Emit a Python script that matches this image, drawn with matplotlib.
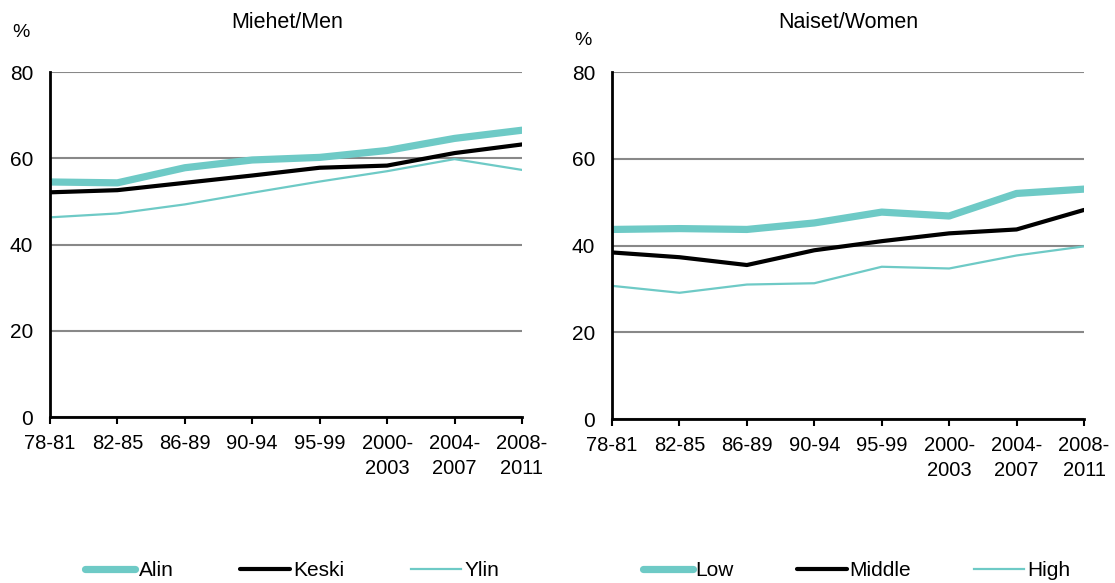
import matplotlib
matplotlib.use("Agg")
import matplotlib.pyplot as plt

plt.rcParams['font.family'] = ['Liberation Sans', 'DejaVu Sans']

# Periods on the x axis
periods = ['78-81', '82-85', '86-89', '90-94', '95-99', '2000-\n2003', '2004-\n2007', '2008-\n2011']

# Men (Miehet)
men_low = [54.5, 54.3, 57.8, 59.6, 60.2, 61.8, 64.6, 66.5]
men_mid = [52.1, 52.6, 54.3, 56.0, 57.8, 58.3, 61.2, 63.2]
men_high = [46.3, 47.2, 49.3, 52.0, 54.6, 57.0, 59.8, 57.3]

# Women (Naiset)
women_low = [43.7, 43.9, 43.7, 45.2, 47.7, 46.8, 52.0, 53.0]
women_mid = [38.4, 37.3, 35.5, 38.9, 41.0, 42.8, 43.7, 48.2]
women_high = [30.7, 29.1, 31.0, 31.3, 35.1, 34.7, 37.7, 39.8]

teal = '#6ECAC6'

fig = plt.figure(figsize=(11.15, 5.83), dpi=100)
ax1 = fig.add_axes([0.0448, 0.2847, 0.4233, 0.5918])
ax2 = fig.add_axes([0.5489, 0.2813, 0.4233, 0.5952])


def draw(ax, low, mid, high, labels, title, title_x, pct_x, pct_y):
    x = range(len(periods))
    l1, = ax.plot(x, low, color=teal, lw=5.2, solid_capstyle='round', solid_joinstyle='round', label=labels[0], zorder=3)
    l2, = ax.plot(x, mid, color='black', lw=3.0, solid_capstyle='round', solid_joinstyle='round', label=labels[1], zorder=4)
    l3, = ax.plot(x, high, color=teal, lw=1.6, label=labels[2], zorder=5)
    ax.set_xlim(0, len(periods) - 1)
    ax.set_ylim(0, 80)
    ax.set_yticks([0, 20, 40, 60, 80])
    ax.set_xticks(list(x))
    ax.set_xticklabels(periods, multialignment='center', linespacing=1.45)
    ax.tick_params(axis='x', direction='out', length=5, width=1.5, labelsize=14.5, pad=7)
    ax.tick_params(axis='y', length=0, labelsize=15, pad=12)
    ax.yaxis.grid(True, color='#888888', lw=1.5)
    ax.set_axisbelow(True)
    for s in ['top', 'right']:
        ax.spines[s].set_visible(False)
    ax.spines['left'].set_linewidth(2)
    ax.spines['bottom'].set_linewidth(2)
    ax.spines['left'].set_zorder(6)
    ax.spines['bottom'].set_zorder(6)
    fig.text(title_x, 0.962, title, fontsize=15.5, ha='center', va='center')
    fig.text(pct_x, pct_y, '%', fontsize=14, ha='center', va='center')
    return [l1, l2, l3]


h1 = draw(ax1, men_low, men_mid, men_high, ['Alin', 'Keski', 'Ylin'], 'Miehet/Men', 0.258, 0.019, 0.945)
h2 = draw(ax2, women_low, women_mid, women_high, ['Low', 'Middle', 'High'], 'Naiset/Women', 0.7605, 0.523, 0.931)

fig.legend(handles=h1, loc='center', bbox_to_anchor=(0.262, 0.021), ncol=3, frameon=False,
           fontsize=15, handlelength=2.4, handletextpad=0.15, columnspacing=3.2)
fig.legend(handles=h2, loc='center', bbox_to_anchor=(0.768, 0.021), ncol=3, frameon=False,
           fontsize=15, handlelength=2.4, handletextpad=0.15, columnspacing=3.0)

fig.savefig('out.png', dpi=100)
